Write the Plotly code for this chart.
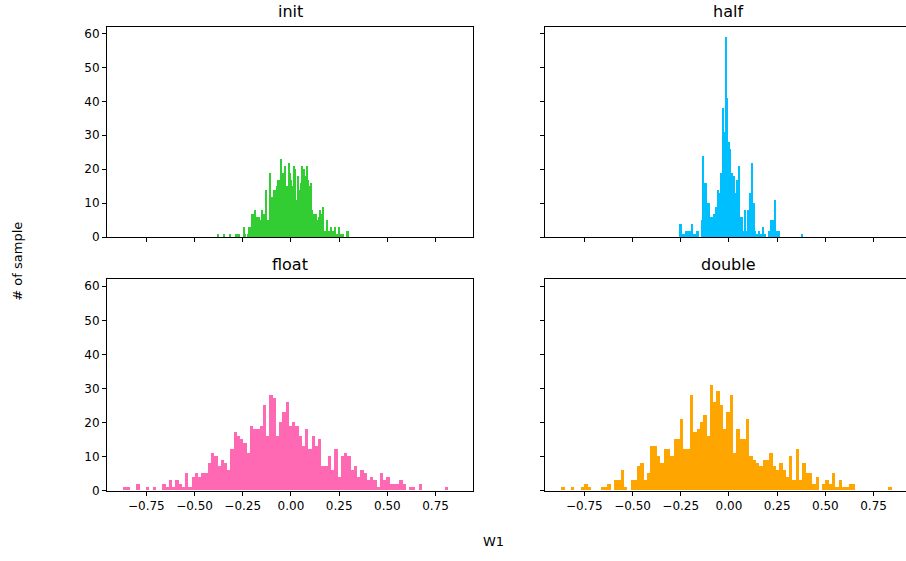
import numpy as np
import plotly.graph_objects as go

# Histogram bin extents (min, max of each weight set) and per-bin counts (100 bins each)
init_range = (-0.382, 0.299)
half_range = (-0.258, 0.384)
float_range = (-0.869, 0.814)
double_range = (-0.870, 0.843)

init_counts = [
    1, 0, 0, 0, 0, 1, 0, 0, 0, 1,
    0, 0, 0, 0, 1, 1, 1, 0, 0, 0,
    3, 1, 0, 1, 3, 3, 7, 7, 8, 5,
    6, 6, 5, 5, 8, 7, 7, 14, 5, 5,
    19, 12, 12, 14, 14, 15, 17, 17, 23, 17,
    19, 21, 13, 15, 22, 19, 17, 15, 21, 20,
    11, 18, 14, 16, 21, 19, 20, 18, 21, 17,
    15, 16, 8, 7, 6, 7, 5, 6, 8, 7,
    9, 2, 2, 5, 2, 2, 3, 2, 2, 3,
    1, 1, 3, 1, 1, 1, 0, 0, 2, 2,
]

half_counts = [
    4, 4, 1, 1, 1, 2, 2, 2, 2, 2,
    4, 1, 1, 1, 2, 2, 0, 0, 5, 24,
    16, 16, 7, 10, 10, 6, 6, 0, 7, 9,
    9, 14, 13, 19, 19, 38, 31, 59, 41, 28,
    28, 26, 19, 18, 18, 13, 17, 13, 21, 6,
    6, 2, 2, 8, 2, 8, 8, 13, 22, 10,
    10, 2, 1, 1, 2, 1, 1, 3, 1, 1,
    0, 0, 2, 2, 5, 5, 3, 11, 2, 2,
    2, 0, 0, 0, 0, 0, 0, 0, 0, 0,
    0, 0, 0, 0, 0, 0, 0, 0, 0, 1,
]

float_counts = [
    1, 1, 0, 0, 2, 0, 0, 1, 0, 1,
    0, 0, 2, 1, 3, 1, 3, 2, 1, 5,
    1, 4, 5, 4, 5, 5, 8, 11, 10, 7,
    9, 8, 6, 12, 17, 16, 15, 14, 11, 19,
    18, 18, 19, 25, 16, 28, 27, 16, 20, 23,
    26, 19, 20, 19, 16, 13, 18, 12, 16, 13,
    15, 7, 7, 10, 6, 12, 4, 10, 11, 10,
    6, 7, 4, 6, 5, 3, 4, 3, 1, 5,
    3, 4, 2, 2, 2, 3, 2, 0, 1, 1,
    0, 2, 0, 0, 0, 0, 0, 0, 0, 1,
]

double_counts = [
    1, 0, 0, 1, 0, 0, 1, 2, 1, 0,
    0, 0, 1, 1, 2, 0, 3, 3, 6, 1,
    0, 3, 3, 7, 8, 3, 5, 13, 13, 10,
    8, 12, 12, 10, 15, 15, 21, 12, 12, 28,
    17, 18, 20, 22, 16, 31, 26, 29, 25, 18,
    23, 28, 11, 18, 15, 15, 21, 10, 9, 8,
    7, 9, 9, 11, 7, 6, 8, 6, 4, 10,
    3, 12, 3, 8, 5, 5, 2, 4, 0, 2,
    3, 2, 5, 1, 3, 1, 1, 2, 2, 0,
    0, 0, 0, 0, 0, 0, 0, 0, 0, 1,
]

x_ticks = [-0.75, -0.50, -0.25, 0.00, 0.25, 0.50, 0.75]
y_ticks = [0, 10, 20, 30, 40, 50, 60]

W, H = 906, 561
FONT = "DejaVu Sans"

panels = [
    ("init", init_counts, init_range, "#32CD32", "x", "y"),
    ("half", half_counts, half_range, "#00BFFF", "x2", "y2"),
    ("float", float_counts, float_range, "#FF69B4", "x3", "y3"),
    ("double", double_counts, double_range, "#FFA500", "x4", "y4"),
]

fig = go.Figure()
for name, counts, (lo, hi), color, xa, ya in panels:
    edges = np.linspace(lo, hi, len(counts) + 1)
    centers = (edges[:-1] + edges[1:]) / 2
    width = edges[1] - edges[0]
    fig.add_trace(go.Bar(
        x=centers, y=counts, width=[width] * len(counts),
        marker=dict(color=color, line=dict(width=0)),
        xaxis=xa, yaxis=ya, name=name, showlegend=False,
    ))

# Axes boxes in pixels (left, right, top, bottom); the right column runs past the page edge
left_col = (107, 473)
right_col = (545, 911)
top_row = (27, 240)
bot_row = (283, 497)

px_per_unit = (left_col[1] - left_col[0]) / 1.898
x_lo = -0.954
x_hi_left = 0.944
x_hi_right = x_lo + (W - right_col[0]) / px_per_unit

def xdom(col):
    return [col[0] / W, min(col[1], W) / W]

def ydom(row):
    return [1 - row[1] / H, 1 - row[0] / H]

tick_font = dict(family=FONT, size=12, color="black")
common_x = dict(showgrid=False, zeroline=False, showline=True, linecolor="black",
                linewidth=1, mirror=True, ticks="outside", ticklen=4, tickwidth=1,
                tickcolor="black", tickvals=x_ticks, tickformat=".2f",
                tickfont=tick_font)
common_y = dict(showgrid=False, zeroline=False, showline=True, linecolor="black",
                linewidth=1, ticks="outside", ticklen=4, tickwidth=1,
                tickcolor="black", tickvals=y_ticks, range=[0, 62],
                tickfont=tick_font)

fig.update_layout(
    width=W, height=H,
    margin=dict(l=0, r=0, t=0, b=0),
    paper_bgcolor="white", plot_bgcolor="white",
    bargap=0, barmode="overlay",
    xaxis=dict(common_x, domain=xdom(left_col), anchor="y", range=[x_lo, x_hi_left], showticklabels=False),
    yaxis=dict(common_y, domain=ydom(top_row), anchor="x", mirror=True),
    xaxis2=dict(common_x, domain=xdom(right_col), anchor="y2", range=[x_lo, x_hi_right], showticklabels=False),
    yaxis2=dict(common_y, domain=ydom(top_row), anchor="x2", showticklabels=False),
    xaxis3=dict(common_x, domain=xdom(left_col), anchor="y3", range=[x_lo, x_hi_left]),
    yaxis3=dict(common_y, domain=ydom(bot_row), anchor="x3", mirror=True),
    xaxis4=dict(common_x, domain=xdom(right_col), anchor="y4", range=[x_lo, x_hi_right]),
    yaxis4=dict(common_y, domain=ydom(bot_row), anchor="x4", showticklabels=False),
)

title_font = dict(family=FONT, size=16, color="black")
annotations = []
for name, col, row in [("init", left_col, top_row), ("half", right_col, top_row),
                       ("float", left_col, bot_row), ("double", right_col, bot_row)]:
    annotations.append(dict(
        text=name, xref="paper", yref="paper",
        x=((col[0] + col[1]) / 2) / W, y=1 - (row[0] - 4) / H,
        xanchor="center", yanchor="bottom", showarrow=False, font=title_font,
    ))

label_font = dict(family=FONT, size=13, color="black")
annotations.append(dict(text="W1", xref="paper", yref="paper", x=493 / W, y=1 - 548 / H,
                        xanchor="center", yanchor="middle", showarrow=False, font=label_font))
annotations.append(dict(text="# of sample", xref="paper", yref="paper", x=18 / W, y=1 - 265 / H,
                        xanchor="center", yanchor="middle", showarrow=False, textangle=-90,
                        font=label_font))
fig.update_layout(annotations=annotations)

fig.write_html("out.html")
